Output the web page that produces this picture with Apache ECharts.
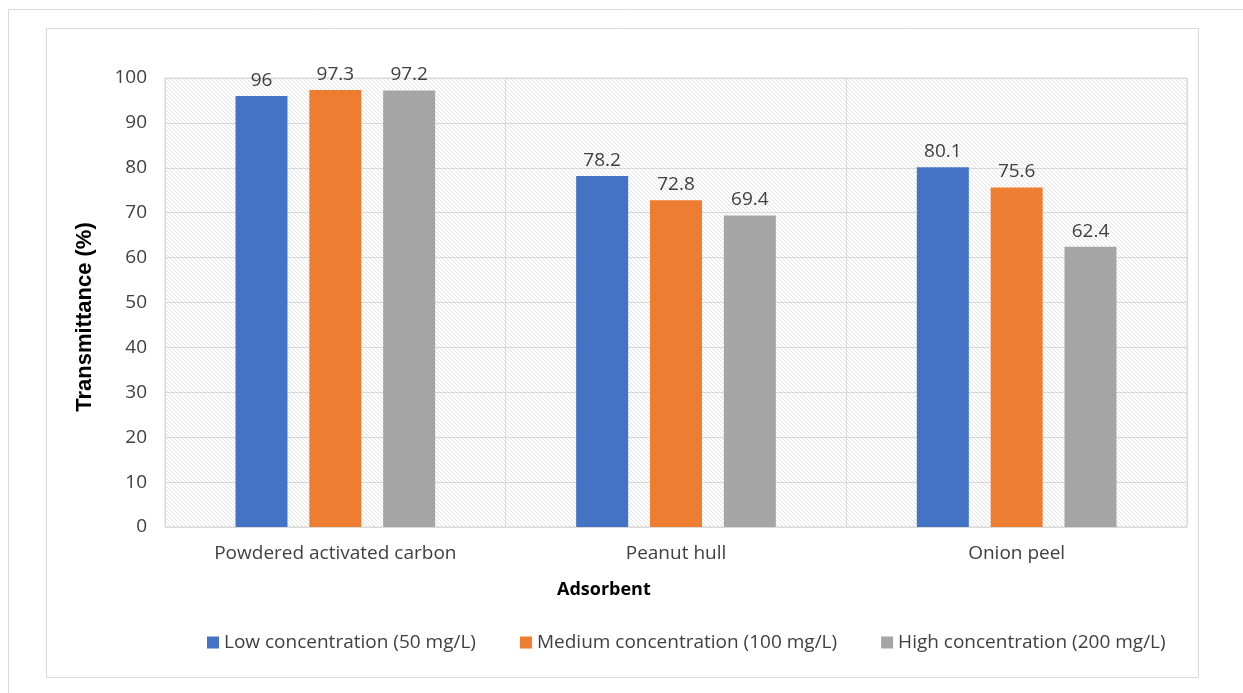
<!DOCTYPE html>
<html><head><meta charset="utf-8">
<script src="https://cdn.jsdelivr.net/npm/echarts@6/dist/echarts.min.js"></script>
<style>html,body{margin:0;padding:0;background:#fff}#c{width:1243px;height:693px}</style>
</head><body><div id="c"></div>
<script>
var categories = ['Powdered activated carbon', 'Peanut hull', 'Onion peel'];
var seriesNames = ['Low concentration (50 mg/L)', 'Medium concentration (100 mg/L)', 'High concentration (200 mg/L)'];
var lowValues = [96, 78.2, 80.1];
var mediumValues = [97.3, 72.8, 75.6];
var highValues = [97.2, 69.4, 62.4];
var yTicks = [0, 10, 20, 30, 40, 50, 60, 70, 80, 90, 100];

var pc = document.createElement('canvas');
pc.width = 4; pc.height = 4;
var g = pc.getContext('2d');
g.fillStyle = '#ffffff'; g.fillRect(0, 0, 4, 4);
g.strokeStyle = '#e2e2e2'; g.lineWidth = 1;
g.beginPath();
g.moveTo(-1, -1); g.lineTo(5, 5);
g.moveTo(-3, 1); g.lineTo(3, 7);
g.moveTo(1, -3); g.lineTo(7, 3);
g.stroke();

var chart = echarts.init(document.getElementById('c'), null, {renderer: 'canvas'});
var font = '"Open Sans", sans-serif';
var colors = ['#4472C4', '#ED7D31', '#A5A5A5'];
var data = [lowValues, mediumValues, highValues];
var series = data.map(function (d, i) {
  return {
    name: seriesNames[i], type: 'bar', data: d,
    barWidth: 52, barGap: '42%',
    itemStyle: {color: colors[i]},
    label: {show: true, position: 'top', distance: 6, color: '#404040', fontFamily: font, fontSize: 19}
  };
});
chart.setOption({
  animation: false,
  backgroundColor: '#fff',
  color: colors,
  grid: {left: 165, top: 78, width: 1022, height: 449, show: true,
    backgroundColor: {image: pc, repeat: 'repeat'}, borderColor: '#d9d9d9', borderWidth: 1},
  xAxis: {
    type: 'category', data: categories,
    axisLine: {show: false}, axisTick: {show: false},
    splitLine: {show: true, lineStyle: {color: '#d9d9d9', width: 1}},
    axisLabel: {color: '#404040', fontFamily: font, fontSize: 19, margin: 17}
  },
  yAxis: {
    type: 'value', min: 0, max: 100, interval: 10,
    axisLine: {show: false}, axisTick: {show: false},
    splitLine: {lineStyle: {color: '#d9d9d9', width: 1}},
    axisLabel: {color: '#404040', fontFamily: font, fontSize: 19, margin: 18,
      formatter: function (v) { return yTicks.indexOf(v) >= 0 ? String(v) : ''; }}
  },
  legend: {
    data: seriesNames, left: 202, top: 628, itemWidth: 12, itemHeight: 12, itemGap: 44,
    icon: 'rect',
    textStyle: {color: '#404040', fontFamily: font, fontSize: 19}
  },
  graphic: [
    {type: 'rect', shape: {x: 8.5, y: 9.5, width: 1300, height: 800}, style: {fill: 'none', stroke: '#d9d9d9', lineWidth: 1}, silent: true, z: -10},
    {type: 'rect', shape: {x: 46.5, y: 28.5, width: 1152, height: 649}, style: {fill: 'none', stroke: '#d9d9d9', lineWidth: 1}, silent: true, z: -10},
    {type: 'text', left: 557, top: 581, style: {text: 'Adsorbent', fontFamily: font, fontWeight: 'bold', fontSize: 18, fill: '#000'}},
    {type: 'text', x: 85, y: 317, rotation: Math.PI / 2,
      style: {text: 'Transmittance (%)', fontFamily: '"Liberation Sans", Arial, sans-serif', fontWeight: 'bold', fontSize: 22, fill: '#000', align: 'center', verticalAlign: 'middle'}}
  ],
  series: series
});
</script></body></html>
